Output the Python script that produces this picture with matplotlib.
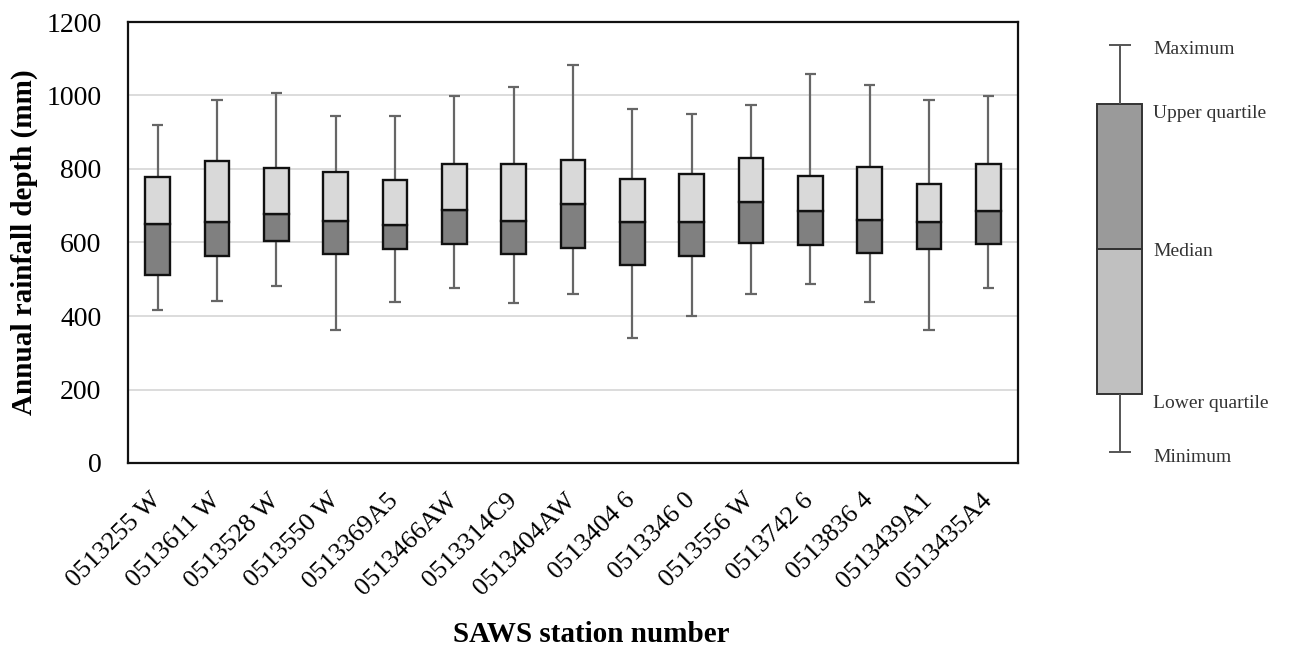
import matplotlib
matplotlib.use("Agg")
import matplotlib.pyplot as plt
import matplotlib.transforms as mtransforms
import numpy as np

plt.rcParams['font.family'] = ['Liberation Serif', 'DejaVu Serif']

stations = ["0513255 W", "0513611 W", "0513528 W", "0513550 W", "0513369A5",
            "0513466AW", "0513314C9", "0513404AW", "0513404 6", "0513346 0",
            "0513556 W", "0513742 6", "0513836 4", "0513439A1", "0513435A4"]
minimum = [416, 442, 482, 361, 437, 477, 436, 459, 339, 400, 459, 488, 437, 362, 477]
lower_q = [511, 563, 605, 569, 583, 596, 569, 584, 539, 562, 599, 592, 571, 582, 596]
median  = [649, 657, 678, 658, 648, 688, 658, 706, 657, 657, 709, 686, 662, 657, 687]
upper_q = [779, 822, 802, 793, 771, 814, 814, 825, 772, 786, 830, 780, 805, 760, 814]
maximum = [920, 988, 1006, 943, 945, 999, 1024, 1082, 964, 951, 974, 1058, 1028, 987, 999]

legend_labels = ["Maximum", "Upper quartile", "Median", "Lower quartile", "Minimum"]

W, H = 1289, 652
fig = plt.figure(figsize=(W / 100, H / 100), dpi=100)

ax = fig.add_axes([128 / W, 1 - 463 / H, (1018 - 128) / W, (463 - 22) / H])
x = np.arange(len(stations))
bw = 0.42
cap = 0.095

ax.set_axisbelow(True)
ax.yaxis.grid(True, color='#d9d9d9', linewidth=1.3)
ax.vlines(x, maximum, upper_q, color='#666666', linewidth=1.6, zorder=2)
ax.vlines(x, minimum, lower_q, color='#666666', linewidth=1.6, zorder=2)
ax.hlines(maximum, x - cap, x + cap, color='#666666', linewidth=1.6, zorder=2)
ax.hlines(minimum, x - cap, x + cap, color='#666666', linewidth=1.6, zorder=2)
ax.bar(x, np.array(median) - np.array(lower_q), bottom=lower_q, width=bw,
       color='#808080', edgecolor='#111111', linewidth=1.7, zorder=3)
ax.bar(x, np.array(upper_q) - np.array(median), bottom=median, width=bw,
       color='#d9d9d9', edgecolor='#111111', linewidth=1.7, zorder=3)

ax.set_xlim(-0.5, len(stations) - 0.5)
ax.set_ylim(0, 1200)
ax.set_yticks(np.arange(0, 1201, 200))
ax.tick_params(axis='y', length=0, pad=19, labelsize=20)
ax.tick_params(axis='x', length=0, pad=6, labelsize=19)
ax.set_xticks(x)
ax.set_xticklabels(stations, rotation=45, ha='right', va='top', rotation_mode='anchor')
offset = mtransforms.ScaledTranslation(-8 / 100, -18 / 100, fig.dpi_scale_trans)
for lbl in ax.get_xticklabels():
    lbl.set_transform(lbl.get_transform() + offset)
for s in ax.spines.values():
    s.set_linewidth(1.6)
    s.set_color('#111111')

fig.text(591 / W, 1 - 635 / H, "SAWS station number", ha='center', va='center',
         fontsize=21, fontweight='bold')
fig.text(24 / W, 1 - 242 / H, "Annual rainfall depth (mm)", ha='center', va='center',
         rotation=90, fontsize=21, fontweight='bold')

# Schematic legend box
lax = fig.add_axes([1080 / W, 1 - 463 / H, (W - 1080) / W, (463 - 22) / H])
lax.set_xlim(0, 209)
lax.set_ylim(463, 22)
lax.axis('off')
ys = [45, 104, 249, 394, 452]
lx0, lx1, lxc = 17, 62, 40
lax.vlines(lxc, ys[0], ys[1], color='#555555', linewidth=1.4)
lax.vlines(lxc, ys[3], ys[4], color='#555555', linewidth=1.4)
lax.hlines([ys[0], ys[4]], lxc - 11, lxc + 11, color='#555555', linewidth=1.4)
lax.add_patch(plt.Rectangle((lx0, ys[1]), lx1 - lx0, ys[2] - ys[1],
                            facecolor='#9a9a9a', edgecolor='#333333', linewidth=1.4))
lax.add_patch(plt.Rectangle((lx0, ys[2]), lx1 - lx0, ys[3] - ys[2],
                            facecolor='#c0c0c0', edgecolor='#333333', linewidth=1.4))
lax.hlines(ys[2], lx0, lx1, color='#333333', linewidth=1.2)
label_y = [49, 113, 251, 403, 458]
for lbl, yy in zip(legend_labels, label_y):
    lax.text(73, yy, lbl, ha='left', va='center', fontsize=14, color='#333333')

fig.savefig("out.png", dpi=100)
